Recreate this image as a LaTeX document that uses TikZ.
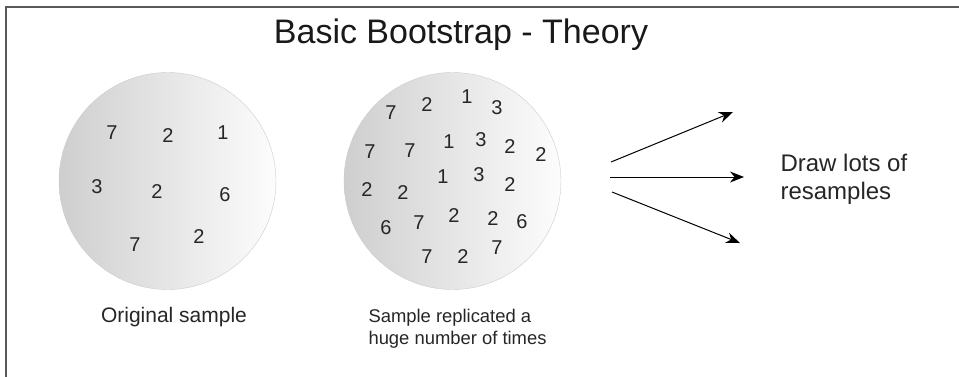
\documentclass[tikz,border=0pt]{standalone}
\usepackage{fontspec}
\setmainfont{Liberation Sans}
\usetikzlibrary{arrows.meta}

\begin{document}
\begin{tikzpicture}[
    x=1pt, y=-1pt,
    pool/.style={circle, draw=black!20, thin, minimum size=217pt,
                 left color=black!19, right color=black!1},
    digit/.style={text=black!85, font=\fontsize{20}{24}\selectfont},
    caption/.style={text=black!85, align=left},
    fan/.style={-{Stealth[length=14pt, width=11pt]}, line width=1pt},
]

\useasboundingbox (0,0) rectangle (959,376);
\clip (0,0) rectangle (959,376);

% Frame, cut off on the right and at the bottom
\draw[black!65, line width=1.5pt] (6,7) rectangle (1000,420);

% Title
\node[anchor=base, text=black!90, font=\fontsize{34}{39}\selectfont]
    (title) at (461,43) {Basic Bootstrap - Theory};

% The two samples
\node[pool] (orig) at (167.5,181) {};
\node[pool] (repl) at (452.5,181) {};

% Original values
\foreach \px/\py/\d in {112/133/7, 168/136/2, 223/133/1,
                        97/187/3, 157/192/2, 225/195/6,
                        135/245/7, 199/237/2}
    \node[digit] at (\px,\py) {\d};

% Replicated values
\foreach \px/\py/\d in {391/113/7, 427/105/2, 467/97/1, 497/108/3,
                        370/152/7, 410/151/7, 449/142/1, 481/140/3,
                        510/147/2, 541/155/2,
                        443/177/1, 479/175/3, 510/185/2,
                        367/190/2, 403/193/2,
                        386/228/6, 419/223/7, 454/216/2, 493/219/2, 522/222/6,
                        427/257/7, 463/257/2, 497/248/7}
    \node[digit] at (\px,\py) {\d};

% Captions
\node[caption, font=\fontsize{21}{25}\selectfont]
    (origlbl) at (174,317) {Original sample};
\node[caption, anchor=west, font=\fontsize{18.4}{22}\selectfont]
    (repllbl) at (365,329) {Sample replicated a\\huge number of times};
\node[caption, anchor=west, font=\fontsize{24}{28}\selectfont]
    (drawlbl) at (777,179) {Draw lots of\\resamples};

% Resampling arrows
\coordinate (fanup)  at (611,162);
\coordinate (fanmid) at (610,177);
\coordinate (fanlow) at (612,192);
\coordinate (tipup)  at (733,112);
\coordinate (tipmid) at (744,177);
\coordinate (tiplow) at (740,243);

\draw[fan] (fanup)  -- (tipup);
\draw[fan] (fanmid) -- (tipmid);
\draw[fan] (fanlow) -- (tiplow);

\end{tikzpicture}
\end{document}
